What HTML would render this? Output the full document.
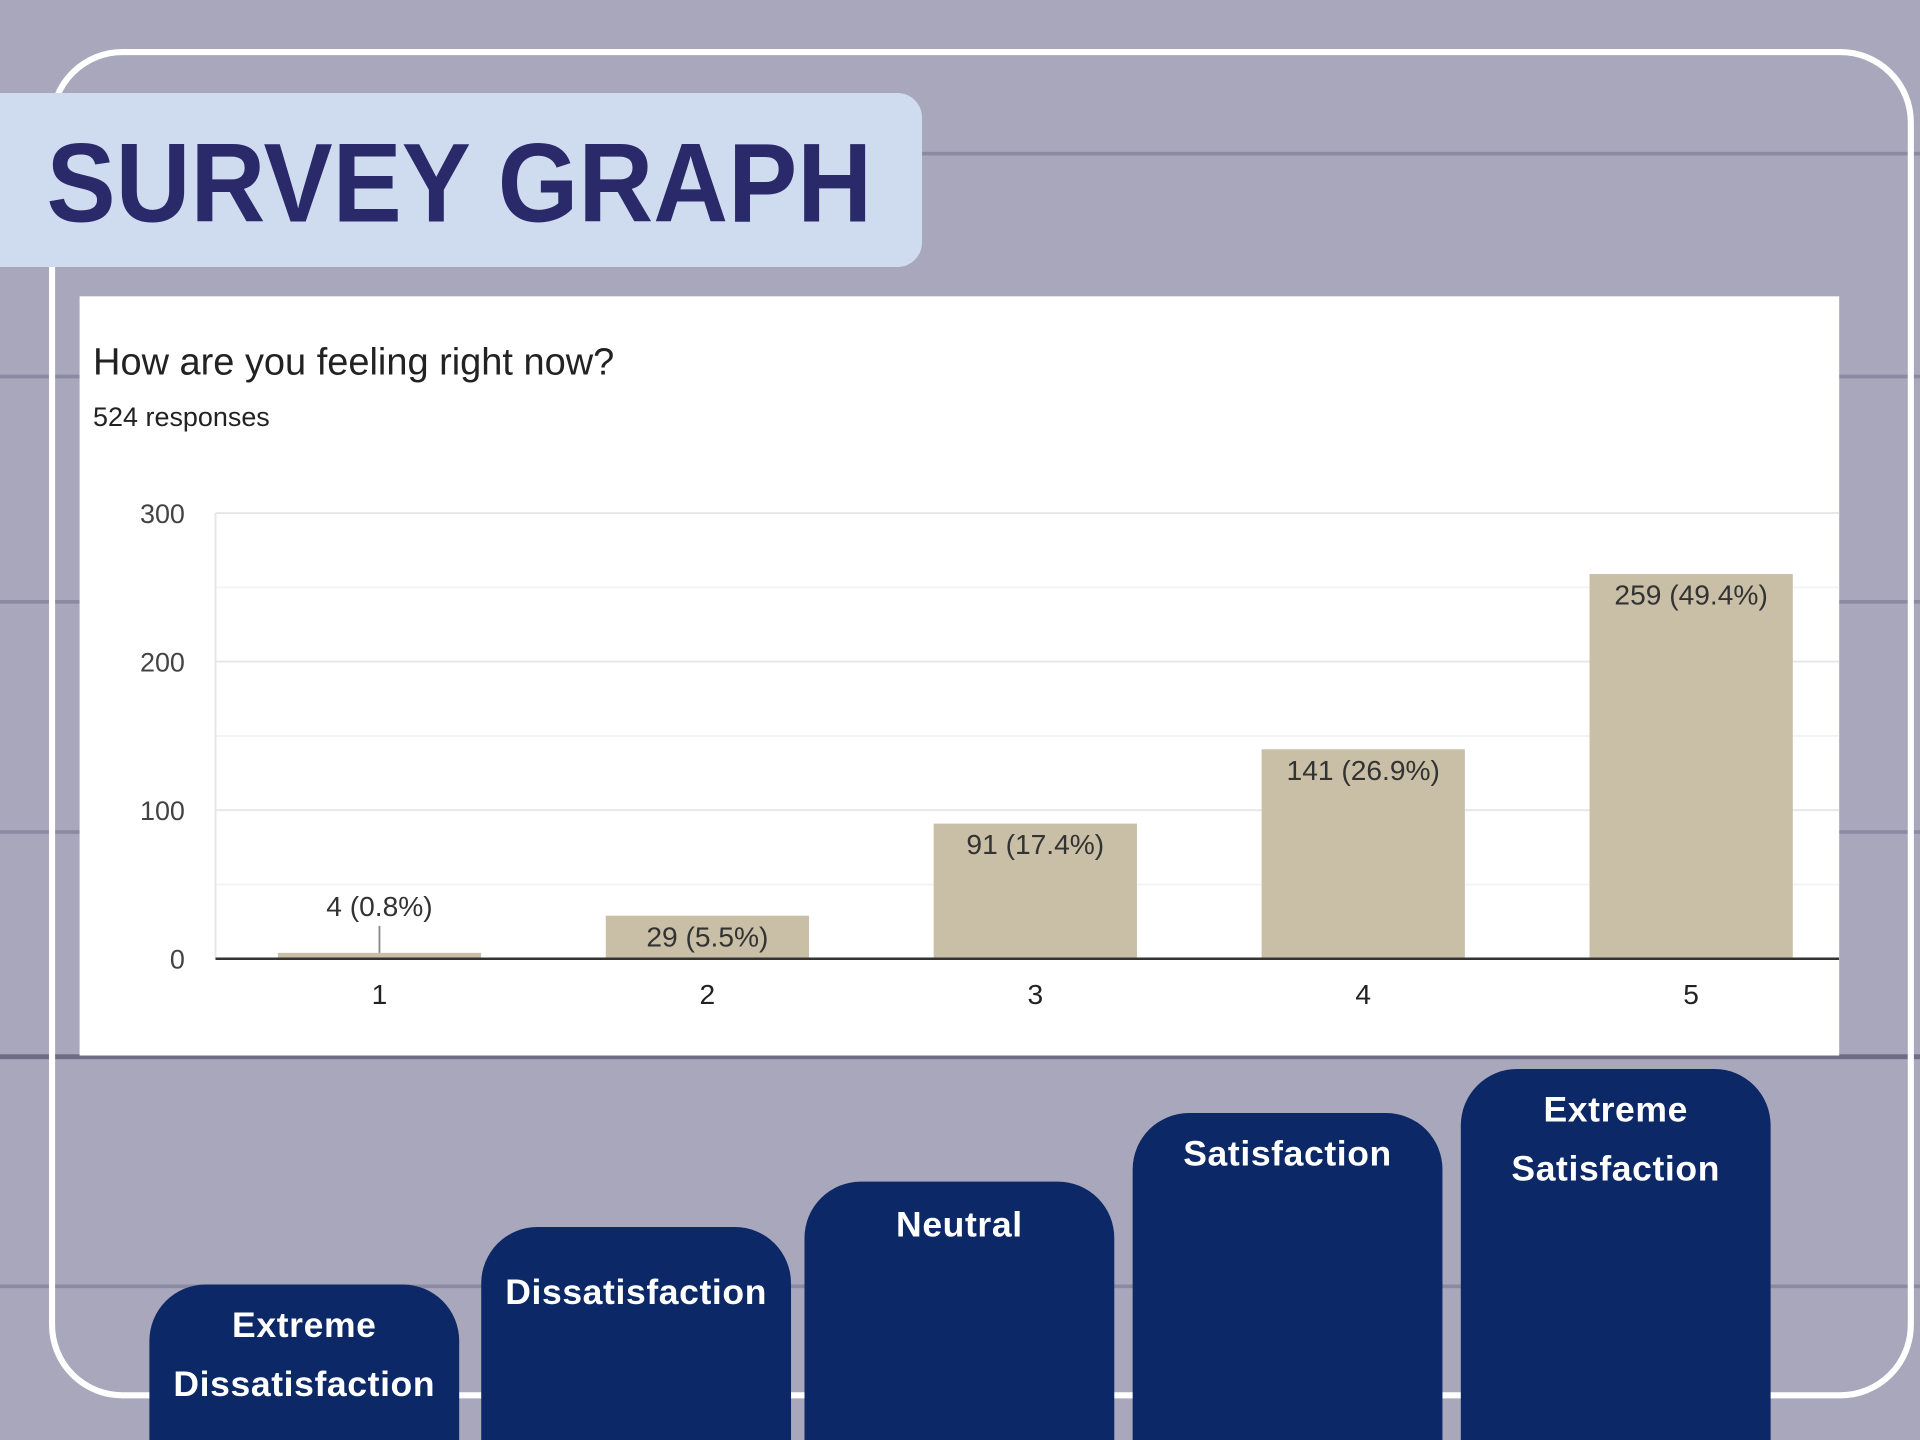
<!DOCTYPE html>
<html><head><meta charset="utf-8"><style>
html,body{margin:0;padding:0;width:1920px;height:1440px;overflow:hidden;background:#a9a7bc;}
#root{position:absolute;left:0;top:0;width:1568px;height:1176px;overflow:hidden;transform:scale(1.22449);transform-origin:0 0;font-family:"Liberation Sans",sans-serif;}
.plank{position:absolute;left:0;width:1568px;height:3px;background:#8c8aa2;}
.navy{position:absolute;background:#0d2866;border-radius:46px 46px 0 0;color:#fff;font-weight:bold;font-size:29px;text-align:center;line-height:48px;letter-spacing:0.5px;bottom:0;box-sizing:border-box;}
</style></head><body>
<div id="root">
<div class="plank" style="top:124px"></div>
<div class="plank" style="top:306px"></div>
<div class="plank" style="top:490px"></div>
<div class="plank" style="top:678px"></div>
<div class="plank" style="top:861px;height:4px;background:#6f6d86"></div>
<div class="plank" style="top:1049px"></div>
<div style="position:absolute;left:40px;top:40px;width:1513px;height:1092px;border:5px solid #fff;border-radius:60px;"></div>
<div style="position:absolute;left:0;top:76px;width:753px;height:142px;background:#cfdcef;border-radius:0 20px 20px 0;">
<div style="position:absolute;left:38px;top:22px;font-size:92px;font-weight:bold;color:#2a2a6a;white-space:nowrap;transform:scaleX(0.92);transform-origin:0 0;">SURVEY GRAPH</div></div>
<div style="position:absolute;left:65px;top:242px;width:1437px;height:620px;background:#fff;">
<div style="position:absolute;left:11px;top:36px;font-size:31px;color:#222;">How are you feeling right now?</div>
<div style="position:absolute;left:11px;top:86px;font-size:22px;color:#222;">524 responses</div>
<svg id="chart" width="1437" height="620" style="position:absolute;left:0;top:0"></svg>
</div>
<div class="navy" style="left:122px;top:1049px;width:253px;padding-top:10px">Extreme<br>Dissatisfaction</div>
<div class="navy" style="left:393px;top:1002px;width:253px;padding-top:30px">Dissatisfaction</div>
<div class="navy" style="left:657px;top:965px;width:253px;padding-top:12px">Neutral</div>
<div class="navy" style="left:925px;top:909px;width:253px;padding-top:10px">Satisfaction</div>
<div class="navy" style="left:1193px;top:873px;width:253px;padding-top:10px">Extreme<br>Satisfaction</div>
</div>
<script>
const categories=["1","2","3","4","5"];
const values=[4,29,91,141,259];
const labels=["4 (0.8%)","29 (5.5%)","91 (17.4%)","141 (26.9%)","259 (49.4%)"];
const yTicks=[0,100,200,300];
const svg=document.getElementById('chart');const NS='http://www.w3.org/2000/svg';
const ox=65,oy=242,x0=176-ox,x1=1515-ox,xEnd=1502-ox,y0=783-oy,pxPer=364/300;
const y=v=>y0-v*pxPer;const step=(x1-x0)/categories.length;const cx=i=>x0+step*(i+0.5);
function el(t,a){const e=document.createElementNS(NS,t);for(const k in a)e.setAttribute(k,a[k]);svg.appendChild(e);return e;}
for(let v=50;v<=300;v+=50){const g=el('line',{x1:x0,x2:xEnd,y1:y(v),y2:y(v),stroke:v%100?'#f3f3f3':'#e6e6e6','stroke-width':1.5});

}
el('line',{x1:x0,x2:x0,y1:y(300),y2:y0,stroke:'#e6e6e6','stroke-width':1.5});
yTicks.forEach(v=>{const t=el('text',{x:86,y:y(v)+8,'text-anchor':'end','font-size':22,fill:'#444','font-family':'Liberation Sans'});t.textContent=v;

});
values.forEach((v,i)=>{const w=166;const r=el('rect',{x:cx(i)-w/2,y:y(v),width:w,height:y0-y(v),fill:'#c8bfa6'});


const h=y0-y(v);let ly=y(v)+25;
if(h<20){ly=y(v)-30;const l=el('line',{x1:cx(i),x2:cx(i),y1:ly+8,y2:y(v),stroke:'#888','stroke-width':1.5});

}
const t=el('text',{x:cx(i),y:ly,'text-anchor':'middle','font-size':23,fill:'#333','font-family':'Liberation Sans'});t.textContent=labels[i];


const xt=el('text',{x:cx(i),y:y0+37,'text-anchor':'middle','font-size':23,fill:'#222','font-family':'Liberation Sans'});xt.textContent=categories[i];

});
const ax=el('line',{x1:x0,x2:xEnd,y1:y0,y2:y0,stroke:'#333','stroke-width':2});


</script>
</body></html>
